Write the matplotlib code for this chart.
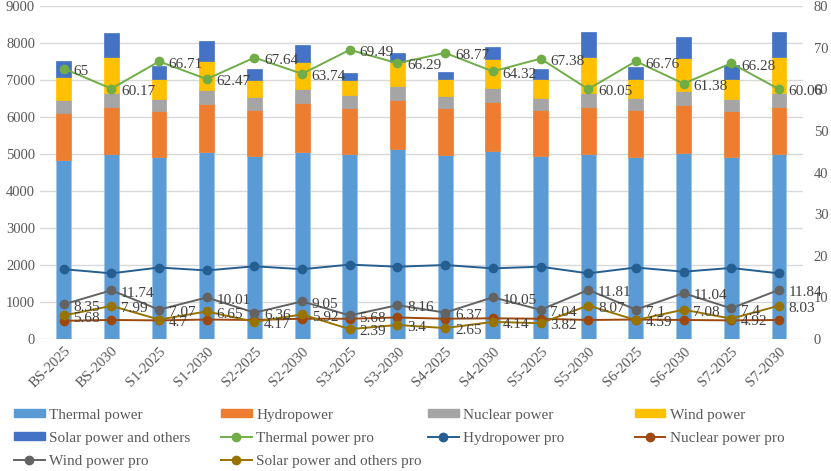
import matplotlib
matplotlib.use("Agg")
import matplotlib.pyplot as plt
import numpy as np
from matplotlib.patches import Patch
from matplotlib.lines import Line2D

plt.rcParams['font.family'] = ['Liberation Serif', 'DejaVu Serif']

categories = ["BS-2025", "BS-2030", "S1-2025", "S1-2030", "S2-2025", "S2-2030",
              "S3-2025", "S3-2030", "S4-2025", "S4-2030", "S5-2025", "S5-2030",
              "S6-2025", "S6-2030", "S7-2025", "S7-2030"]

# stacked generation (left axis)
thermal = [4850, 5010, 4930, 5045, 4955, 5070, 5010, 5125, 4975, 5080, 4945, 5000, 4930, 5025, 4920, 5000]
hydro   = [1270, 1270, 1240, 1315, 1250, 1305, 1250, 1335, 1275, 1325, 1250, 1280, 1250, 1300, 1245, 1280]
nuclear = [ 340,  360,  325,  360,  335,  380,  335,  380,  325,  380,  325,  360,  335,  370,  330,  360]
wind    = [ 615,  975,  530,  810,  460,  730,  405,  650,  450,  775,  520,  990,  515,  900,  540,  990]
solar   = [ 440,  665,  350,  530,  305,  470,  180,  230,  200,  335,  260,  665,  335,  565,  380,  665]

# proportions (right axis)
thermal_pro = [65, 60.17, 66.71, 62.47, 67.64, 63.74, 69.49, 66.29, 68.77, 64.32, 67.38, 60.05, 66.76, 61.38, 66.28, 60.06]
hydro_pro   = [16.8, 15.8, 17.2, 16.5, 17.5, 16.8, 17.9, 17.4, 17.8, 17.0, 17.4, 15.8, 17.2, 16.2, 17.1, 15.8]
nuclear_pro = [4.4, 4.6, 4.5, 4.7, 4.6, 4.9, 4.9, 5.2, 4.9, 5.0, 4.9, 4.6, 4.7, 4.6, 4.5, 4.6]
wind_pro    = [8.35, 11.74, 7.07, 10.01, 6.36, 9.05, 5.68, 8.16, 6.37, 10.05, 7.04, 11.81, 7.1, 11.04, 7.4, 11.84]
solar_pro   = [5.68, 7.99, 4.7, 6.65, 4.17, 5.92, 2.39, 3.4, 2.65, 4.14, 3.82, 8.07, 4.59, 7.08, 4.92, 8.03]

bar_colors = ["#5B9BD5", "#ED7D31", "#A5A5A5", "#FFC000", "#4472C4"]
bar_names = ["Thermal power", "Hydropower", "Nuclear power", "Wind power", "Solar power and others"]
line_colors = ["#70AD47", "#255E91", "#9E480E", "#636363", "#997300"]
line_names = ["Thermal power pro", "Hydropower pro", "Nuclear power pro", "Wind power pro",
              "Solar power and others pro"]

txt = "#595959"
fig = plt.figure(figsize=(8.31, 4.71), dpi=100)
ax = fig.add_axes([0.048, 0.28, 0.918, 0.707])
x = np.arange(len(categories))

bottom = np.zeros(len(categories))
for vals, c in zip([thermal, hydro, nuclear, wind, solar], bar_colors):
    ax.bar(x, vals, 0.31, bottom=bottom, color=c, edgecolor="#9DC3E6" if c == "#5B9BD5" else c,
           linewidth=0.5, zorder=2)
    bottom += np.array(vals)

ax.set_ylim(0, 9000)
ax.set_yticks(np.arange(0, 9001, 1000))
ax.set_xlim(-0.5, len(categories) - 0.5)
ax.grid(axis='y', color="#D9D9D9", linewidth=1.0, zorder=0)
ax.set_axisbelow(True)
for s in ax.spines.values():
    s.set_visible(False)
ax.tick_params(length=0, labelsize=10.5, colors=txt)
ax.set_xticks(x)
ax.set_xticklabels(categories, rotation=45, ha='right', rotation_mode='anchor')
ax.tick_params(axis='x', pad=4)

ax2 = ax.twinx()
ax2.set_ylim(0, 80)
ax2.set_yticks(np.arange(0, 81, 10))
for s in ax2.spines.values():
    s.set_visible(False)
ax2.tick_params(length=0, labelsize=10.5, colors=txt, pad=8)

series = [thermal_pro, hydro_pro, nuclear_pro, wind_pro, solar_pro]
for vals, c in zip(series, line_colors):
    ax2.plot(x, vals, color=c, marker='o', markersize=6, linewidth=1.4, zorder=3)

for idx in [0, 3, 4]:
    for xi, v in zip(x, series[idx]):
        ax2.annotate(f"{v:g}", (xi, v), xytext=(7, -2), textcoords='offset points',
                     ha='left', va='center', fontsize=11, color="#404040", zorder=4)

# legend in 4 columns, row-wise as in reference
bar_handles = [Patch(facecolor=c, edgecolor=c) for c in bar_colors]
line_handles = [Line2D([0], [0], color=c, marker='o', markersize=6, linewidth=1.4) for c in line_colors]
handles = bar_handles + line_handles
labels = bar_names + line_names
cols = [[0, 4, 8], [1, 5, 9], [2, 6], [3, 7]]
xs = [0.017, 0.266, 0.515, 0.764]
for cx, col in zip(xs, cols):
    fig.legend([handles[i] for i in col], [labels[i] for i in col], loc='upper left',
               bbox_to_anchor=(cx, 0.132), frameon=False, fontsize=11,
               handlelength=2.0, handleheight=0.45, handletextpad=0.3, labelspacing=0.65,
               labelcolor=txt, borderpad=0, borderaxespad=0)

fig.savefig("out.png", dpi=100)
